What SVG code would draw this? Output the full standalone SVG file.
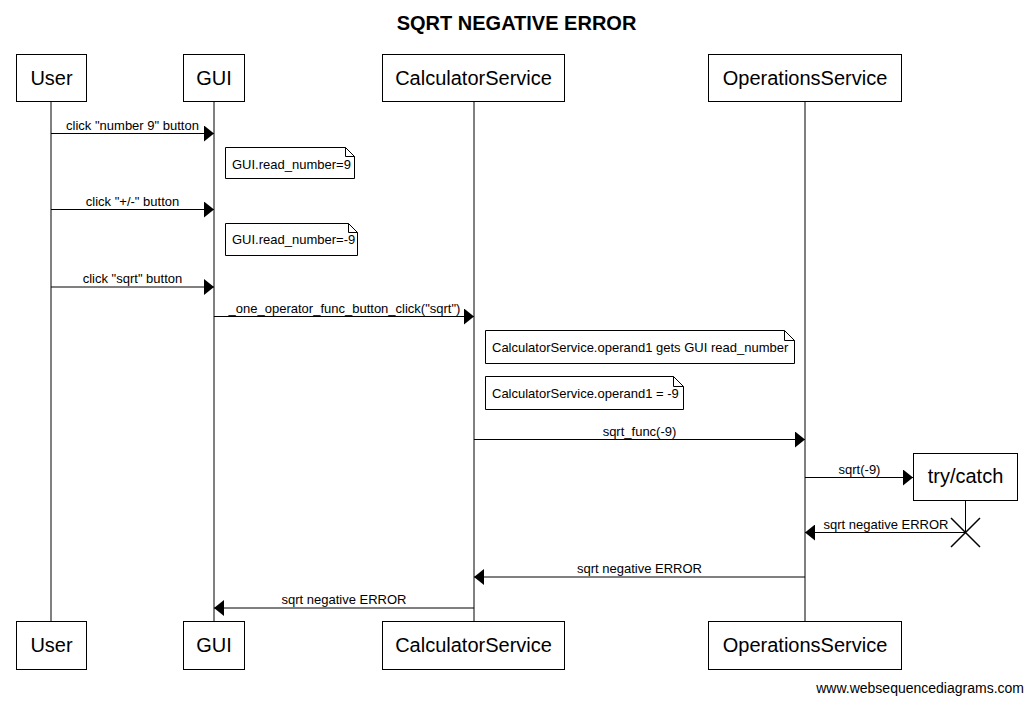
<svg xmlns="http://www.w3.org/2000/svg" width="1033" height="705" viewBox="0 0 1033 705">
<style>
text{font-family:"Liberation Sans",Arial,sans-serif;fill:#000}
.title{font-size:20px;font-weight:bold;text-anchor:middle}
.actor rect{fill:#fff;stroke:#000;stroke-width:1}
.actor text{font-size:20px;text-anchor:middle}
.life{stroke:#000;stroke-width:1;fill:none}
.msg{stroke:#000;stroke-width:1;fill:none}
.lbl{font-size:13px;text-anchor:middle}
.note path{fill:#fff;stroke:#000;stroke-width:1}
.note text{font-size:13px}
.wm{font-size:14px;text-anchor:end}
</style>
<defs>
<marker id="ah" markerWidth="10" markerHeight="16" refX="10" refY="8" orient="auto" markerUnits="userSpaceOnUse">
<path d="M0,0 L10,8 L0,16 Z" fill="#000"/>
</marker>
</defs>
<rect width="1033" height="705" fill="#fff"/>
<text class="title" x="516.5" y="30">SQRT NEGATIVE ERROR</text>

<g id="lifelines">
<line class="life" x1="51" y1="102" x2="51" y2="621"/>
<line class="life" x1="214" y1="102" x2="214" y2="621"/>
<line class="life" x1="474" y1="102" x2="474" y2="621"/>
<line class="life" x1="805" y1="102" x2="805" y2="621"/>
<line class="life" x1="965.5" y1="501" x2="965.5" y2="532"/>
</g>

<g id="user" class="actor">
<rect x="16.5" y="54.5" width="70" height="47"/>
<text x="51.5" y="85">User</text>
<rect x="16.5" y="621.5" width="70" height="48"/>
<text x="51.5" y="652">User</text>
</g>
<g id="gui" class="actor">
<rect x="183.5" y="54.5" width="61" height="47"/>
<text x="214" y="85">GUI</text>
<rect x="183.5" y="621.5" width="61" height="48"/>
<text x="214" y="652">GUI</text>
</g>
<g id="calculatorservice" class="actor">
<rect x="382.5" y="54.5" width="182" height="47"/>
<text x="473.5" y="85">CalculatorService</text>
<rect x="382.5" y="621.5" width="182" height="48"/>
<text x="473.5" y="652">CalculatorService</text>
</g>
<g id="operationsservice" class="actor">
<rect x="708.5" y="54.5" width="193" height="47"/>
<text x="805" y="85">OperationsService</text>
<rect x="708.5" y="621.5" width="193" height="48"/>
<text x="805" y="652">OperationsService</text>
</g>
<g id="trycatch" class="actor">
<rect x="913.5" y="453.5" width="104" height="47"/>
<text x="965.5" y="483">try/catch</text>
<path d="M951,518 L980,547 M980,518 L951,547" stroke="#000" stroke-width="1.5" fill="none"/>
</g>

<g id="note1" class="note">
<path d="M225.5,147.5 H345.5 L354.5,156.5 V178.5 H225.5 Z M345.5,147.5 V156.5 H354.5"/>
<text x="232" y="169">GUI.read_number=9</text>
</g>
<g id="note2" class="note">
<path d="M225.5,223.5 H348.5 L357.5,232.5 V255.5 H225.5 Z M348.5,223.5 V232.5 H357.5"/>
<text x="232" y="244">GUI.read_number=-9</text>
</g>
<g id="note3" class="note">
<path d="M485.5,330.5 H784.5 L794.5,340.5 V363.5 H485.5 Z M784.5,330.5 V340.5 H794.5"/>
<text x="492" y="352">CalculatorService.operand1 gets GUI read_number</text>
</g>
<g id="note4" class="note">
<path d="M485.5,376.5 H673.5 L683.5,386.5 V409.5 H485.5 Z M673.5,376.5 V386.5 H683.5"/>
<text x="492" y="398">CalculatorService.operand1 = -9</text>
</g>

<g id="connectors">
<line class="msg" x1="51" y1="133.5" x2="214" y2="133.5" marker-end="url(#ah)"/>
<text class="lbl" x="132.5" y="129.5">click "number 9" button</text>
<line class="msg" x1="51" y1="209.5" x2="214" y2="209.5" marker-end="url(#ah)"/>
<text class="lbl" x="132.5" y="205.5">click "+/-" button</text>
<line class="msg" x1="51" y1="287" x2="214" y2="287" marker-end="url(#ah)"/>
<text class="lbl" x="132.5" y="283">click "sqrt" button</text>
<line class="msg" x1="214" y1="316.5" x2="474" y2="316.5" marker-end="url(#ah)"/>
<text class="lbl" x="344.5" y="312.5">_one_operator_func_button_click("sqrt")</text>
<line class="msg" x1="474" y1="439.5" x2="805" y2="439.5" marker-end="url(#ah)"/>
<text class="lbl" x="639.5" y="435.5">sqrt_func(-9)</text>
<line class="msg" x1="805" y1="477.5" x2="913" y2="477.5" marker-end="url(#ah)"/>
<text class="lbl" x="859.5" y="473.5">sqrt(-9)</text>
<line class="msg" x1="965.5" y1="532.5" x2="805" y2="532.5" marker-end="url(#ah)"/>
<text class="lbl" x="886" y="528.5">sqrt negative ERROR</text>
<line class="msg" x1="805" y1="577" x2="474" y2="577" marker-end="url(#ah)"/>
<text class="lbl" x="639.5" y="573">sqrt negative ERROR</text>
<line class="msg" x1="474" y1="608" x2="214" y2="608" marker-end="url(#ah)"/>
<text class="lbl" x="344" y="604">sqrt negative ERROR</text>
</g>

<text class="wm" x="1024" y="693">www.websequencediagrams.com</text>
</svg>
